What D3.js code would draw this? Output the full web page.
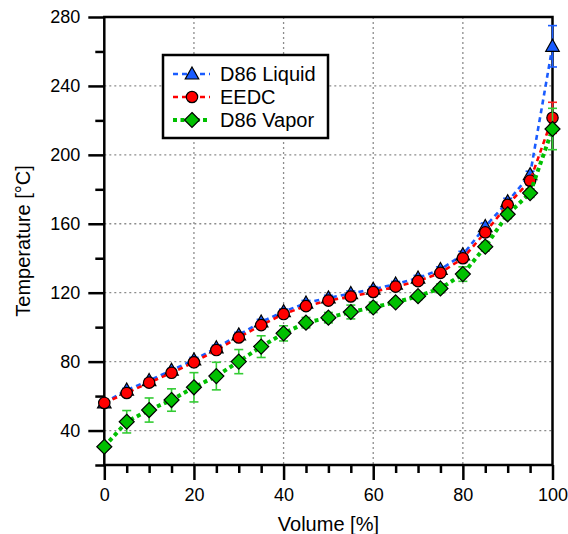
<!DOCTYPE html>
<html>
<head>
<meta charset="utf-8">
<script src="https://cdn.jsdelivr.net/npm/d3@7"></script>
<style>
  body { margin: 0; background: #fff; }
  svg { display: block; font-family: "Liberation Sans", Arial, sans-serif; }
</style>
</head>
<body>
<svg id="chart" width="568" height="534"></svg>
<script>
// ---- Data ----
const volume = [0, 5, 10, 15, 20, 25, 30, 35, 40, 45, 50, 55, 60, 65, 70, 75, 80, 85, 90, 95, 100];
const d86Liquid = [56, 63.5, 69, 75, 81, 88, 95.5, 103, 109, 114, 117, 119.5, 122, 125, 128.5, 133.5, 142, 158.4, 172.8, 188.5, 263];
const d86LiquidErr = [1, 1, 1, 1, 1.5, 1.5, 1.5, 1.5, 1.5, 1.5, 1.5, 1.5, 1.5, 1.5, 1.5, 1.5, 2, 2, 2, 2, 12];
const eedc = [56, 61.8, 67.8, 73.5, 79.6, 86.7, 94, 101.2, 107.6, 112.2, 115.4, 117.8, 120.4, 123.5, 126.7, 131.5, 140, 155, 171, 185, 221.5];
const eedcErr = [2, 2, 2, 2, 2, 2, 2, 2, 2, 2, 2, 2, 2, 2, 2, 2, 2.5, 2.5, 2.5, 2.5, 9];
const d86Vapor = [30.6, 45.1, 51.9, 57.7, 65.1, 71.6, 80, 88.7, 96.4, 102.6, 105.5, 108.8, 111.5, 114.4, 118, 122.5, 130.8, 146.7, 165.5, 177.8, 215];
const d86VaporErr = [1.5, 6.5, 7, 6.5, 8.5, 8, 7, 6.3, 4.4, 3, 3, 4, 3, 2, 2, 2.5, 4.2, 2.5, 2.5, 2.5, 12];

const xMajorTicks = [0, 20, 40, 60, 80, 100];
const xMinorTicks = [5, 10, 15, 25, 30, 35, 45, 50, 55, 65, 70, 75, 85, 90, 95];
const yMajorTicks = [40, 80, 120, 160, 200, 240, 280];
const yMinorTicks = [20, 60, 100, 140, 180, 220, 260];
const xGrid = [20, 40, 60, 80];
const yGrid = [40, 80, 120, 160, 200, 240];

const seriesNames = ["D86 Liquid", "EEDC", "D86 Vapor"];

// ---- Layout ----
const L = 104.3, R = 552.5, T = 17, B = 465;
const svg = d3.select("#chart");
const x = d3.scaleLinear().domain([0, 100]).range([L, R]);
const y = d3.scaleLinear().domain([20, 280]).range([B, T]);

const series = [
  { name: seriesNames[0], vals: d86Liquid, err: d86LiquidErr, color: "#1a5cff", errColor: "#1a5cff", shape: "triangle", dash: "5,4", width: 2.6, errW: 1.6 },
  { name: seriesNames[1], vals: eedc, err: eedcErr, color: "#ff0000", errColor: "#ff2020", shape: "circle", dash: "5,4", width: 2.6, errW: 1.6 },
  { name: seriesNames[2], vals: d86Vapor, err: d86VaporErr, color: "#00c000", errColor: "#33cc33", shape: "diamond", dash: "4,3.5", width: 4, errW: 1.6 }
];

// ---- Grid ----
const grid = svg.append("g").attr("stroke", "#8c8c8c").attr("stroke-width", 1.3).attr("stroke-dasharray", "2,3");
grid.selectAll(".gx").data(xGrid).join("line")
  .attr("x1", d => x(d)).attr("x2", d => x(d)).attr("y1", T).attr("y2", B);
grid.selectAll(".gy").data(yGrid).join("line")
  .attr("x1", L).attr("x2", R).attr("y1", d => y(d)).attr("y2", d => y(d));

// ---- Axes ----
const tickFont = 18, legendFont = 20, titleFont = 20;
function styleAxis(g) {
  g.select(".domain").remove();
  g.selectAll(".tick line").attr("stroke", "#000").attr("stroke-width", 2.5);
  g.selectAll(".tick text").attr("fill", "#000").attr("font-size", tickFont).attr("font-family", "Liberation Sans, Arial, sans-serif");
}
svg.append("g").attr("transform", `translate(${L},0)`)
  .call(d3.axisLeft(y).tickValues(yMajorTicks).tickSize(16).tickPadding(8).tickFormat(d3.format("d")))
  .call(styleAxis);
svg.append("g").attr("transform", `translate(${L},0)`)
  .call(d3.axisLeft(y).tickValues(yMinorTicks).tickSize(9).tickFormat(""))
  .call(styleAxis);
svg.append("g").attr("transform", `translate(0,${B})`)
  .call(d3.axisBottom(x).tickValues(xMajorTicks).tickSize(15).tickPadding(8).tickFormat(d3.format("d")))
  .call(styleAxis);
svg.append("g").attr("transform", `translate(0,${B})`)
  .call(d3.axisBottom(x).tickValues(xMinorTicks).tickSize(8).tickFormat(""))
  .call(styleAxis);

// frame
const frame = svg.append("g").attr("stroke", "#000").attr("stroke-width", 2.5).attr("fill", "none");
frame.append("path").attr("d", `M${L},${T} L${R},${T} L${R},${B} L${L},${B} Z`);

// ---- Marker drawing ----
function drawMarker(g, shape, cx, cy, color) {
  if (shape === "circle") {
    g.append("circle").attr("cx", cx).attr("cy", cy).attr("r", 5.7)
      .attr("fill", color).attr("stroke", "#000").attr("stroke-width", 1.2);
  } else if (shape === "triangle") {
    const h = 12, w = 13.5;
    g.append("path").attr("d", `M${cx},${cy - h / 2 - 1} L${cx + w / 2},${cy + h / 2 - 1} L${cx - w / 2},${cy + h / 2 - 1} Z`)
      .attr("fill", color).attr("stroke", "#000").attr("stroke-width", 1.2).attr("stroke-linejoin", "miter");
  } else {
    const s = 7.5;
    g.append("path").attr("d", `M${cx},${cy - s} L${cx + s},${cy} L${cx},${cy + s} L${cx - s},${cy} Z`)
      .attr("fill", color).attr("stroke", "#000").attr("stroke-width", 1.2);
  }
}

// ---- Series ----
const line = d3.line().x(d => x(d[0])).y(d => y(d[1]));
series.forEach(s => {
  const g = svg.append("g");
  const pts = volume.map((v, i) => [v, s.vals[i]]);
  g.append("path").datum(pts).attr("d", line)
    .attr("fill", "none").attr("stroke", s.color).attr("stroke-width", s.width)
    .attr("stroke-dasharray", s.dash);
  const eg = g.append("g").attr("stroke", s.errColor).attr("stroke-width", s.errW);
  volume.forEach((v, i) => {
    const cx = x(v), y1 = y(s.vals[i] + s.err[i]), y2 = y(s.vals[i] - s.err[i]);
    eg.append("line").attr("x1", cx).attr("x2", cx).attr("y1", y1).attr("y2", y2);
    eg.append("line").attr("x1", cx - 4.5).attr("x2", cx + 4.5).attr("y1", y1).attr("y2", y1);
    eg.append("line").attr("x1", cx - 4.5).attr("x2", cx + 4.5).attr("y1", y2).attr("y2", y2);
  });
  const mg = g.append("g");
  volume.forEach((v, i) => drawMarker(mg, s.shape, x(v), y(s.vals[i]), s.color));
});

// ---- Legend ----
const lg = svg.append("g");
lg.append("rect").attr("x", 163).attr("y", 55).attr("width", 165).attr("height", 83)
  .attr("fill", "#fff").attr("stroke", "#000").attr("stroke-width", 2.5);
series.forEach((s, i) => {
  const cy = 74 + i * 23;
  lg.append("line").attr("x1", 173).attr("x2", 210).attr("y1", cy).attr("y2", cy)
    .attr("stroke", s.color).attr("stroke-width", s.width).attr("stroke-dasharray", s.dash);
  drawMarker(lg, s.shape, 192, cy, s.color);
  lg.append("text").attr("x", 220).attr("y", cy).attr("dy", "0.36em")
    .attr("font-size", legendFont).attr("fill", "#000").text(s.name);
});

// ---- Axis titles ----
svg.append("text").attr("x", (L + R) / 2).attr("y", 531).attr("text-anchor", "middle")
  .attr("font-size", titleFont).attr("fill", "#000").text("Volume [%]");
svg.append("text").attr("transform", `translate(30,${(T + B) / 2}) rotate(-90)`).attr("text-anchor", "middle")
  .attr("font-size", titleFont).attr("fill", "#000").text("Temperature [°C]");
</script>
</body>
</html>
